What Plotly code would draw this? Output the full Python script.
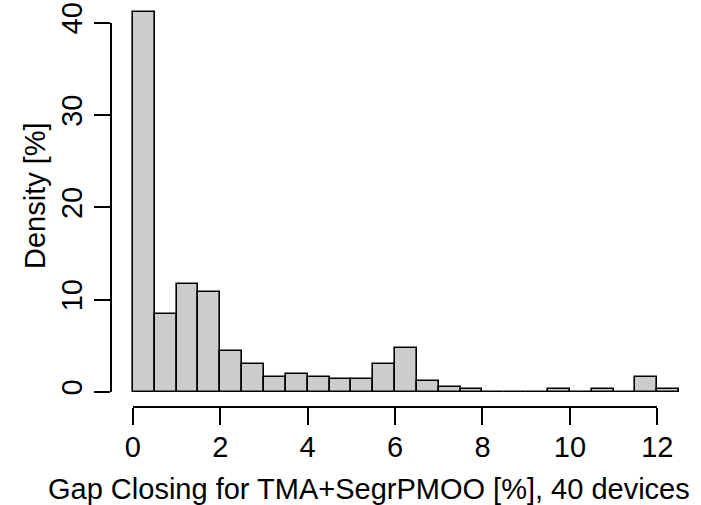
import plotly.graph_objects as go

# ---- data ----
bin_left = [0.0, 0.5, 1.0, 1.5, 2.0, 2.5, 3.0, 3.5, 4.0, 4.5, 5.0, 5.5, 6.0,
            6.5, 7.0, 7.5, 8.0, 8.5, 9.0, 9.5, 10.0, 10.5, 11.0, 11.5, 12.0]
bin_width = 0.5
density = [41.2, 8.4, 11.7, 10.8, 4.46, 3.06, 1.65, 1.95, 1.65, 1.37, 1.37, 3.06, 4.72,
           1.15, 0.54, 0.27, 0.0, 0.0, 0.0, 0.27, 0.0, 0.27, 0.0, 1.65, 0.27]
x_ticks = [0, 2, 4, 6, 8, 10, 12]
y_ticks = [0, 10, 20, 30, 40]
x_title = "Gap Closing for TMA+SegrPMOO [%], 40 devices"
y_title = "Density [%]"

# ---- layout geometry ----
W, H = 701, 505
ML, MR, MT, MB = 111, 0, 0, 98
XMIN, XMAX = -0.5, 13.0
YMIN, YMAX = -1.65, 42.46
FONT = "Liberation Sans, Arial, Helvetica, sans-serif"
FS = 29
PW, PH = W - ML - MR, H - MT - MB


def fx(v):
    return (v - XMIN) / (XMAX - XMIN)


def fy(v):
    return (v - YMIN) / (YMAX - YMIN)


centers = [b + bin_width / 2 for b in bin_left]

fig = go.Figure()
fig.add_trace(go.Bar(
    x=centers, y=density, width=[bin_width] * len(centers),
    marker=dict(color="#cccccc", line=dict(color="black", width=1.6)),
    hoverinfo="x+y", showlegend=False,
))
# empty trace to create the R-style detached axes
fig.add_trace(go.Scatter(x=[], y=[], xaxis="x2", yaxis="y2", showlegend=False))

fig.update_layout(
    width=W, height=H,
    margin=dict(l=ML, r=MR, t=MT, b=MB, pad=0, autoexpand=False),
    paper_bgcolor="white", plot_bgcolor="rgba(0,0,0,0)",
    bargap=0,
    font=dict(family=FONT, size=FS, color="black"),
    xaxis=dict(range=[XMIN, XMAX], visible=False, domain=[0, 1], automargin=False),
    yaxis=dict(range=[YMIN, YMAX], visible=False, domain=[0, 1], automargin=False),
    xaxis2=dict(
        range=[x_ticks[0], x_ticks[-1]], domain=[fx(x_ticks[0]), fx(x_ticks[-1])],
        anchor="free", position=0, showline=True, linecolor="black", linewidth=1.6,
        ticks="outside", ticklen=17, tickwidth=1.6, tickcolor="black",
        tickvals=x_ticks, ticktext=[str(t) for t in x_ticks],
        showgrid=False, zeroline=False, automargin=False, ticklabelstandoff=-3,
        tickfont=dict(family=FONT, size=FS, color="black"),
    ),
    yaxis2=dict(
        range=[y_ticks[0], y_ticks[-1]], domain=[fy(y_ticks[0]), fy(y_ticks[-1])],
        anchor="free", position=0, showline=True, linecolor="black", linewidth=1.6,
        ticks="outside", ticklen=16, tickwidth=1.6, tickcolor="black",
        tickvals=y_ticks, ticktext=[str(t) for t in y_ticks], tickangle=-90,
        showgrid=False, zeroline=False, automargin=False, ticklabelstandoff=1,
        tickfont=dict(family=FONT, size=FS, color="black"),
    ),
    annotations=[
        dict(text=x_title, xref="paper", yref="paper",
             x=(369 - ML) / PW, y=(H - MB - 489) / PH,
             xanchor="center", yanchor="middle", showarrow=False,
             font=dict(family=FONT, size=FS, color="black")),
        dict(text=y_title, xref="paper", yref="paper",
             x=(35 - ML) / PW, y=(H - MB - 196) / PH, textangle=-90,
             xanchor="center", yanchor="middle", showarrow=False,
             font=dict(family=FONT, size=FS, color="black")),
    ],
)

fig.write_html(
    "out.html",
    config={"displayModeBar": False},
    post_script="document.body.style.margin='0';document.body.style.overflow='hidden';",
)
